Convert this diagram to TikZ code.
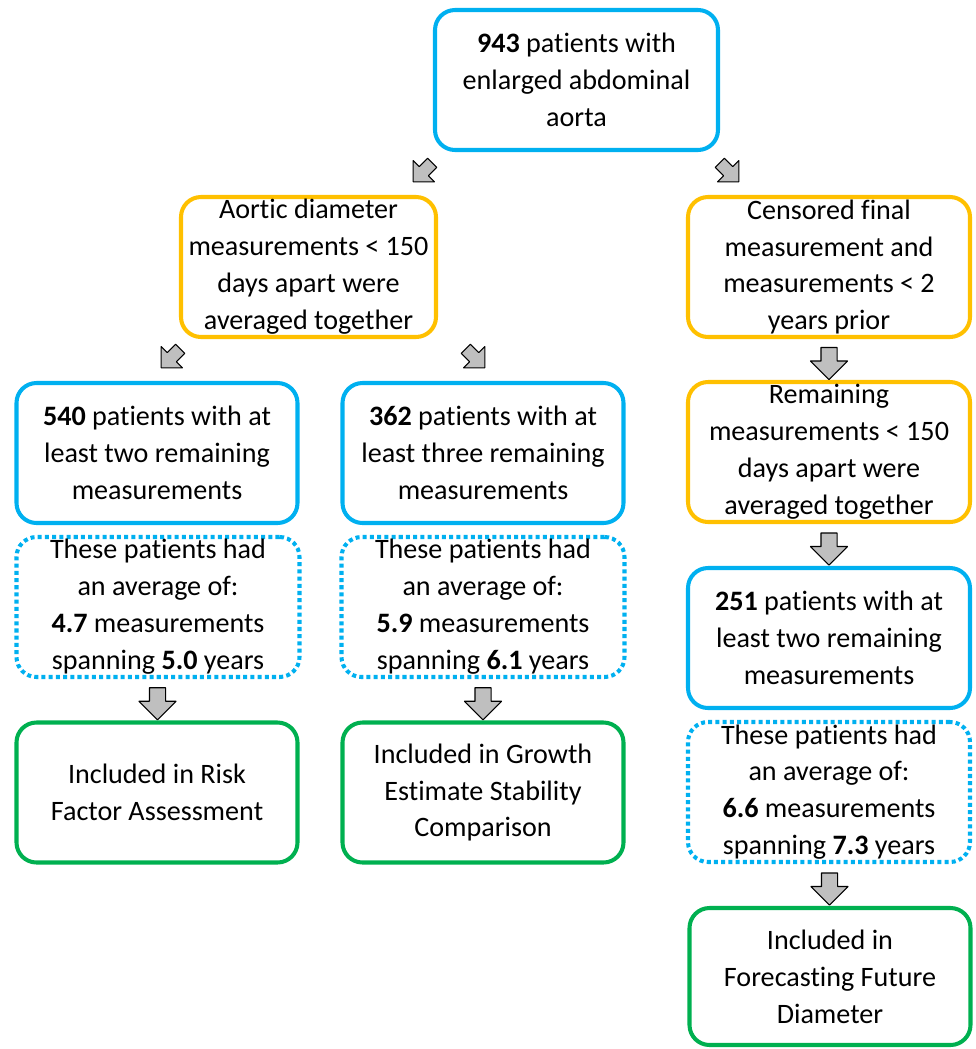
\documentclass[tikz,border=0pt]{standalone}
\usepackage{fontspec}
\setmainfont[Ligatures={NoCommon,NoContextual}]{Carlito}
\usetikzlibrary{calc,shapes.arrows}

\begin{document}
\begin{tikzpicture}[font=\fontsize{16}{21}\selectfont, line join=round,
      box/.style={rounded corners=0.4cm, line width=2.3pt, align=center,
        inner sep=0pt, minimum width=5.62cm, minimum height=2.8cm},
      bluebox/.style={box, draw=cBlue},
      orangebox/.style={box, draw=cOrange},
      greenbox/.style={box, draw=cGreen},
      dotbox/.style={box, draw=cBlue, dash pattern=on 2.3pt off 1.8pt},
      blockarrow/.style={single arrow, draw=black, fill=black!25, line width=0.6pt,
        inner xsep=0pt, inner ysep=0.15cm, minimum height=0.64cm,
        single arrow head extend=0.21cm},
      diagarrow/.style={blockarrow, inner ysep=0.12cm, minimum height=0.54cm,
        single arrow head extend=0.17cm}]
    \definecolor{cBlue}{RGB}{0,176,240}
    \definecolor{cOrange}{RGB}{255,192,0}
    \definecolor{cGreen}{RGB}{0,176,80}
    \useasboundingbox (0,0) rectangle (19.5,-20.98);
    % ==== top of the tree ====
    \node[bluebox, minimum width=5.66cm] (start) at (11.53,-1.60)
      {\textbf{943} patients with\\enlarged abdominal\\aorta};
    \node[orangebox, minimum width=5.10cm] (avg) at (6.17,-5.34)
      {Aortic diameter\\measurements < 150\\days apart were\\averaged together};
    \node[orangebox, minimum width=5.64cm] (censor) at (16.58,-5.34)
      {Censored final\\measurement and\\measurements < 2\\years prior};
    \node[diagarrow, rotate=-135] (sa1) at (8.50,-3.40) {};
    \node[diagarrow, rotate=-45] (sa2) at (14.54,-3.40) {};
    % ==== left branch ====
    \node[diagarrow, rotate=-135] (sa3) at (3.46,-7.12) {};
    \node[diagarrow, rotate=-45] (sa4) at (9.46,-7.12) {};
    \node[bluebox] (two) at (3.14,-9.06)
      {\textbf{540} patients with at\\least two remaining\\measurements};
    \node[dotbox, minimum width=5.66cm] (avgtwo) at (3.16,-12.14)
      {These patients had\\an average of:\\\textbf{4.7} measurements\\spanning \textbf{5.0} years};
    \node[greenbox] (risk) at (3.14,-15.85)
      {Included in Risk\\Factor Assessment};
    \node[blockarrow, rotate=-90] (da1) at ($(avgtwo.south)!0.5!(risk.north)$) {};
    % ==== middle branch ====
    \node[bluebox] (three) at (9.66,-9.06)
      {\textbf{362} patients with at\\least three remaining\\measurements};
    \node[dotbox, minimum width=5.66cm] (avgthree) at (9.66,-12.14)
      {These patients had\\an average of:\\\textbf{5.9} measurements\\spanning \textbf{6.1} years};
    \node[greenbox] (stab) at (9.66,-15.85)
      {Included in Growth\\Estimate Stability\\Comparison};
    \node[blockarrow, rotate=-90] (da2) at ($(avgthree.south)!0.5!(stab.north)$) {};
    % ==== right branch ====
    \node[orangebox, minimum width=5.64cm] (remain) at (16.58,-9.04)
      {Remaining\\measurements < 150\\days apart were\\averaged together};
    \node[bluebox, minimum width=5.64cm] (final) at (16.58,-12.76)
      {\textbf{251} patients with at\\least two remaining\\measurements};
    \node[dotbox, minimum width=5.64cm] (avgfinal) at (16.58,-15.84)
      {These patients had\\an average of:\\\textbf{6.6} measurements\\spanning \textbf{7.3} years};
    \node[greenbox, minimum height=2.74cm] (fore) at (16.60,-19.53)
      {Included in\\Forecasting Future\\Diameter};
    \node[blockarrow, rotate=-90] (da3) at ($(censor.south)!0.5!(remain.north)$) {};
    \node[blockarrow, rotate=-90] (da4) at ($(remain.south)!0.5!(final.north)$) {};
    \node[blockarrow, rotate=-90] (da5) at ($(avgfinal.south)!0.5!(fore.north)$) {};
  \end{tikzpicture}
\end{document}
